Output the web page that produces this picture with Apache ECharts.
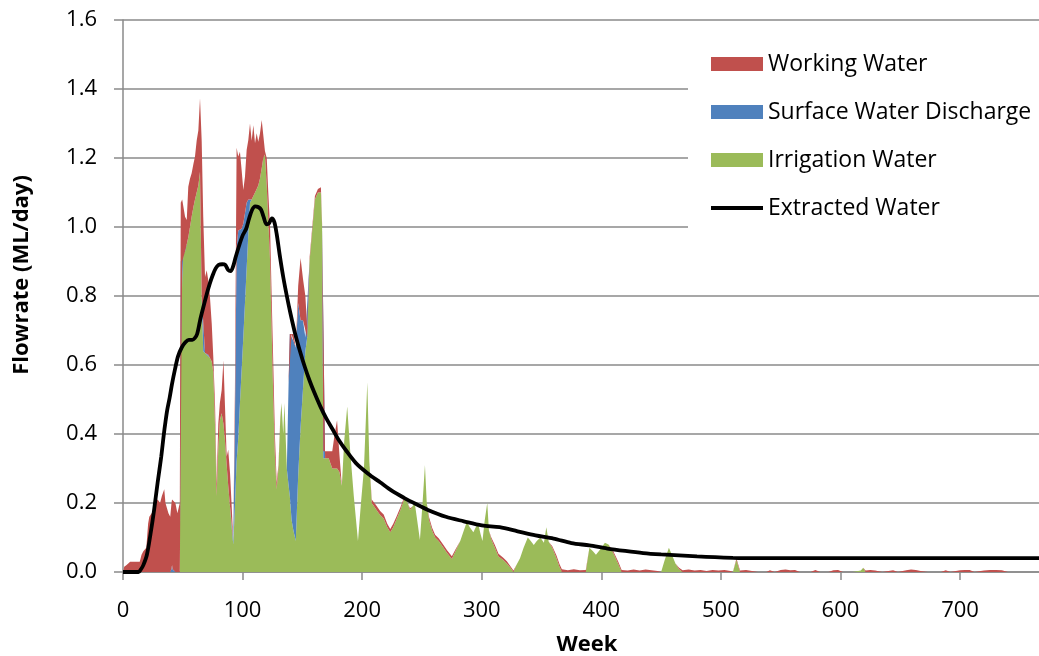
<!DOCTYPE html>
<html>
<head>
<meta charset="utf-8">
<title>Flowrate by week</title>
<script src="https://cdn.jsdelivr.net/npm/echarts@6/dist/echarts.min.js"></script>
<style>
  html, body { margin: 0; padding: 0; background: #ffffff; }
  #chart { width: 1039px; height: 656px; }
</style>
</head>
<body>
<div id="chart"></div>
<script>
// Weekly flow components (ML/day), stacked: irrigation at the bottom,
// surface water discharge in the middle, working water on top.
const weeks = [
  0, 1, 3, 6, 10, 14, 15.5, 17, 19.5, 21,
  22, 24, 26, 27, 29, 31, 32.5, 34.5, 35.5, 37,
  38, 39.5, 40.5, 41, 41.5, 43.8, 45.5, 46.8, 47.5, 48.3,
  49.5, 50.4, 51.9, 53.3, 54.6, 56, 57.4, 59, 60.2, 61.6,
  63, 64.4, 65.8, 67.1, 68.6, 70, 71.3, 72.7, 74.2, 75.5,
  77, 78.3, 79.7, 81, 82.5, 84, 85.3, 86.7, 88, 89.5,
  90.9, 92.2, 93.6, 95, 96.4, 97.8, 99.2, 100.6, 102, 103.4,
  104.8, 106.2, 107.6, 109, 110.4, 111.8, 113.1, 114.5, 116, 117.3,
  118.7, 120.2, 121.5, 123, 124.3, 125.7, 127, 128.5, 130, 131.5,
  132.5, 134, 135, 137, 138.5, 139.5, 141, 142.5, 144.5, 146.5,
  148.5, 150.5, 152.5, 154, 156, 158, 160.5, 163, 165.5, 166.5,
  167.5, 169, 172, 175, 177, 179, 181, 183, 185, 187.5,
  190, 193, 196.5, 199, 201.5, 204.3, 206, 208, 212, 215,
  218, 221, 223.5, 226, 229, 232, 235.5, 238, 240, 242,
  244, 246, 248.3, 250.5, 252.5, 254, 256, 258.5, 261, 264,
  268, 271, 275, 278, 282, 285, 287.5, 290, 293, 295,
  297, 299, 300.6, 302.5, 304.6, 306, 308, 311, 314, 318,
  321, 324, 326.5, 329, 332, 335, 338.5, 341, 343.5, 346,
  349, 352, 354, 356, 359, 362.5, 365, 367, 372, 377,
  382, 387, 390, 393, 395.5, 399, 403, 406, 410, 414,
  417, 422, 427, 432, 437, 442, 447, 450, 453, 456.5,
  459, 462, 465, 468, 473, 478, 483, 488, 493, 498,
  503, 508, 510, 513, 516, 521, 526, 531, 538, 541,
  545, 550, 554, 558, 562, 566, 575, 579, 583, 590,
  594, 598, 602, 610, 617, 619, 621, 625, 629, 635,
  644, 648, 655, 659, 663, 667, 673, 684, 688, 692,
  700, 704, 708, 712, 720, 725, 730, 735, 740
];

const irrigation = [
  0, 0, 0, 0, 0, 0, 0, 0, 0, 0,
  0, 0, 0, 0, 0, 0, 0, 0, 0, 0,
  0, 0, 0, 0, 0, 0, 0, 0, 0, 0.6,
  0.85, 0.92, 0.93, 0.95, 0.97, 1.0, 1.03, 1.06, 1.08, 1.1,
  1.12, 1.16, 0.8, 0.64, 0.635, 0.63, 0.63, 0.62, 0.61, 0.58,
  0.42, 0.22, 0.36, 0.44, 0.46, 0.43, 0.38, 0.31, 0.25, 0.19,
  0.13, 0.08, 0.19, 0.32, 0.39, 0.49, 0.585, 0.68, 0.78, 0.88,
  0.98, 1.07, 1.08, 1.09, 1.1, 1.11, 1.12, 1.14, 1.17, 1.2,
  1.21, 1.12, 1.02, 0.9, 0.7, 0.5, 0.34, 0.24, 0.3, 0.44,
  0.49, 0.4, 0.49, 0.3, 0.25, 0.22, 0.15, 0.12, 0.09, 0.28,
  0.42, 0.53, 0.64, 0.68, 0.9, 0.98, 1.08, 1.1, 1.1, 1.0,
  0.33, 0.33, 0.33, 0.3, 0.3, 0.3, 0.29, 0.25, 0.38, 0.48,
  0.35, 0.22, 0.09, 0.2, 0.3, 0.55, 0.32, 0.2, 0.18, 0.165,
  0.155, 0.13, 0.115, 0.13, 0.155, 0.18, 0.215, 0.2, 0.18, 0.19,
  0.2, 0.15, 0.093, 0.2, 0.31, 0.2, 0.15, 0.12, 0.1, 0.09,
  0.07, 0.055, 0.038, 0.06, 0.09, 0.12, 0.145, 0.13, 0.115, 0.13,
  0.14, 0.11, 0.09, 0.15, 0.2, 0.12, 0.095, 0.07, 0.045, 0.035,
  0.025, 0.012, 0, 0.02, 0.04, 0.07, 0.1, 0.09, 0.078, 0.09,
  0.1, 0.085, 0.13, 0.088, 0.07, 0.04, 0.015, 0, 0, 0,
  0, 0, 0.07, 0.06, 0.05, 0.065, 0.085, 0.08, 0.055, 0.025,
  0, 0, 0, 0, 0, 0, 0, 0, 0.035, 0.07,
  0.05, 0.025, 0.008, 0, 0, 0, 0, 0, 0, 0,
  0, 0, 0, 0.035, 0, 0, 0, 0, 0, 0,
  0, 0, 0, 0, 0, 0, 0, 0, 0, 0,
  0, 0, 0, 0, 0.004, 0.012, 0, 0, 0, 0,
  0, 0, 0, 0, 0, 0, 0, 0, 0, 0,
  0, 0, 0, 0, 0, 0, 0, 0, 0
];

const surfaceDischarge = [
  0, 0, 0, 0, 0, 0, 0, 0, 0, 0,
  0, 0, 0, 0, 0, 0, 0, 0, 0, 0,
  0, 0, 0.008, 0.02, 0.008, 0, 0, 0, 0, 0.3,
  0.05, 0.01, 0, 0, 0, 0, 0, 0, 0, 0,
  0, 0, 0, 0, 0, 0, 0, 0, 0, 0,
  0, 0, 0, 0, 0, 0, 0, 0, 0, 0,
  0.01, 0.013, 0.24, 0.62, 0.6, 0.5, 0.41, 0.33, 0.26, 0.19,
  0.1, 0.01, 0, 0, 0, 0, 0, 0, 0, 0,
  0, 0, 0, 0, 0, 0, 0, 0, 0, 0,
  0, 0, 0, 0, 0.3, 0.47, 0.54, 0.55, 0.56, 0.5,
  0.31, 0.2, 0.04, 0, 0, 0, 0, 0, 0, 0,
  0, 0, 0, 0, 0, 0, 0, 0, 0, 0,
  0, 0, 0, 0, 0, 0, 0, 0, 0, 0,
  0, 0, 0, 0, 0, 0, 0, 0, 0, 0,
  0, 0, 0, 0, 0, 0, 0, 0, 0, 0,
  0, 0, 0, 0, 0, 0, 0, 0, 0, 0,
  0, 0, 0, 0, 0, 0, 0, 0, 0, 0,
  0, 0, 0, 0, 0, 0, 0, 0, 0, 0,
  0, 0, 0, 0, 0, 0, 0, 0, 0, 0,
  0, 0, 0, 0, 0, 0, 0, 0, 0, 0,
  0, 0, 0, 0, 0, 0, 0, 0, 0, 0,
  0, 0, 0, 0, 0, 0, 0, 0, 0, 0,
  0, 0, 0, 0, 0, 0, 0, 0, 0, 0,
  0, 0, 0, 0, 0, 0, 0, 0, 0, 0,
  0, 0, 0, 0, 0, 0, 0, 0, 0, 0,
  0, 0, 0, 0, 0, 0, 0, 0, 0, 0,
  0, 0, 0, 0, 0, 0, 0, 0, 0
];

const workingWater = [
  0, 0.015, 0.02, 0.03, 0.03, 0.03, 0.05, 0.06, 0.07, 0.14,
  0.16, 0.17, 0.18, 0.2, 0.21, 0.2, 0.22, 0.24, 0.2, 0.2,
  0.17, 0.16, 0.19, 0.19, 0.2, 0.2, 0.17, 0.19, 0.2, 0.17,
  0.18, 0.15, 0.1, 0.07, 0.147, 0.14, 0.126, 0.125, 0.124, 0.15,
  0.16, 0.213, 0.45, 0.39, 0.22, 0.245, 0.216, 0.178, 0.11, 0.044,
  0.06, 0.037, 0.07, 0.05, 0.067, 0.184, 0.1, 0.024, 0.104, 0.097,
  0.05, 0, 0.1, 0.29, 0.214, 0.228, 0.17, 0.097, 0.106, 0.153,
  0.172, 0.22, 0.17, 0.205, 0.143, 0.162, 0.127, 0.13, 0.14, 0.115,
  0.01, 0.08, 0.08, 0.1, 0.1, 0.1, 0.06, 0.02, 0.01, 0.005,
  0, 0, 0, 0, 0, 0, 0, 0.02, 0, 0.05,
  0.18, 0.12, 0.12, 0.03, 0.01, 0.01, 0.01, 0.01, 0.015, 0.01,
  0.02, 0.015, 0.02, 0.05, 0.1, 0.14, 0.05, 0, 0, 0,
  0, 0, 0, 0, 0, 0, 0, 0.01, 0.012, 0.012,
  0.012, 0.01, 0.01, 0.01, 0.008, 0.008, 0.005, 0, 0.005, 0,
  0, 0, 0, 0, 0, 0, 0.008, 0.008, 0.008, 0.008,
  0.008, 0.008, 0.008, 0.005, 0, 0, 0, 0, 0, 0,
  0, 0, 0, 0, 0, 0, 0.005, 0.008, 0.008, 0.006,
  0.006, 0.005, 0.004, 0, 0, 0, 0, 0, 0, 0,
  0, 0, 0, 0, 0.005, 0.008, 0.008, 0.008, 0.005, 0.008,
  0.005, 0.006, 0, 0, 0, 0, 0, 0, 0.005, 0.006,
  0.006, 0.004, 0.007, 0.004, 0.007, 0.005, 0.003, 0, 0, 0,
  0, 0, 0.004, 0.005, 0.007, 0.004, 0.006, 0.003, 0.006, 0.004,
  0.006, 0.003, 0, 0.004, 0.004, 0.006, 0.003, 0, 0, 0.005,
  0, 0.006, 0.007, 0.005, 0.006, 0, 0, 0.006, 0, 0,
  0.005, 0.006, 0, 0, 0, 0, 0.004, 0.006, 0.004, 0,
  0.005, 0, 0.005, 0.007, 0.006, 0.003, 0, 0, 0.005, 0,
  0.005, 0.006, 0.006, 0, 0.004, 0.006, 0.006, 0.005, 0
];

// Total extracted flow (ML/day)
const extractedWeeks = [
  0, 5, 10, 13, 15, 17, 20, 23, 26, 29,
  32, 34, 35.5, 37, 39, 41, 43.5, 46, 49, 52,
  55, 58, 60, 62, 64.5, 67, 70, 72.5, 75, 77.5,
  80, 83, 85.5, 88, 90, 92, 94, 97, 100, 103,
  105.5, 108, 110.5, 113, 115.5, 117.5, 120, 122, 124.5, 126.5,
  128.5, 131, 134, 137, 140, 144, 148, 152, 156, 160,
  165, 170, 175, 180, 187, 195, 205, 215, 225, 235,
  245, 255, 270, 285, 300, 315, 330, 345, 360, 375,
  390, 405, 420, 435, 450, 465, 480, 495, 510, 525,
  540, 600, 700, 766
];
const extracted = [
  0, 0, 0, 0, 0.008, 0.02, 0.05, 0.11, 0.18, 0.26,
  0.335, 0.395, 0.435, 0.47, 0.505, 0.545, 0.588, 0.625, 0.65, 0.665,
  0.673, 0.673, 0.678, 0.69, 0.73, 0.765, 0.805, 0.835, 0.86, 0.88,
  0.89, 0.892, 0.89, 0.875, 0.872, 0.885, 0.91, 0.945, 0.975, 0.995,
  1.025, 1.05, 1.06, 1.058, 1.05, 1.03, 1.008, 1.01, 1.025, 1.015,
  0.98, 0.92, 0.855, 0.8, 0.75, 0.69, 0.64, 0.595, 0.555, 0.52,
  0.48, 0.445, 0.415, 0.385, 0.35, 0.315, 0.285, 0.26, 0.235, 0.215,
  0.197, 0.18, 0.16, 0.147, 0.135, 0.13, 0.118, 0.106, 0.097, 0.084,
  0.077, 0.068, 0.061, 0.055, 0.051, 0.048, 0.045, 0.043, 0.041, 0.04,
  0.04, 0.04, 0.04, 0.04
];

const weekTicks = [0, 100, 200, 300, 400, 500, 600, 700];
const flowTicks = [0, 0.2, 0.4, 0.6, 0.8, 1.0, 1.2, 1.4, 1.6];

const FONT = '"Open Sans", "Noto Sans", sans-serif';
const AXIS_GREY = '#8a8a8a';
const RED = '#C0504D';
const BLUE = '#4F81BD';
const GREEN = '#9BBB59';

// Flow value in column 0, week in column 1, so the stack accumulates flow.
const flowRows = values => weeks.map((w, i) => [values[i], w]);

function areaSeries(name, values, color) {
  return {
    name: name,
    type: 'line',
    stack: 'flow',
    data: flowRows(values),
    encode: { x: 1, y: 0 },
    symbol: 'none',
    color: color,
    lineStyle: { width: 0 },
    areaStyle: { color: color, opacity: 1 },
    emphasis: { disabled: true },
    z: 2
  };
}

const chart = echarts.init(document.getElementById('chart'), null, { renderer: 'canvas' });

chart.setOption({
  animation: false,
  backgroundColor: '#ffffff',
  grid: { left: 123, right: 0, top: 20, bottom: 84, containLabel: false },
  xAxis: {
    type: 'value',
    min: weekTicks[0],
    max: 766,
    interval: weekTicks[1] - weekTicks[0],
    axisLine: { show: true, onZero: false, lineStyle: { color: AXIS_GREY, width: 1.5 } },
    axisTick: { show: true, length: 8, lineStyle: { color: AXIS_GREY, width: 1.5 } },
    axisLabel: {
      color: '#000', fontFamily: FONT, fontSize: 22, margin: 28,
      showMaxLabel: false,
      formatter: v => (weekTicks.includes(v) ? String(v) : '')
    },
    splitLine: { show: false }
  },
  yAxis: {
    type: 'value',
    min: flowTicks[0],
    max: flowTicks[flowTicks.length - 1],
    interval: 0.2,
    axisLine: { show: true, lineStyle: { color: AXIS_GREY, width: 1.5 } },
    axisTick: { show: true, length: 9, lineStyle: { color: AXIS_GREY, width: 1.5 } },
    axisLabel: {
      color: '#000', fontFamily: FONT, fontSize: 22, margin: 26,
      formatter: v => v.toFixed(1)
    },
    splitLine: { show: true, lineStyle: { color: AXIS_GREY, width: 1.5 } }
  },
  legend: {
    orient: 'vertical',
    left: 688,
    top: 32,
    padding: [20, 10, 25, 23],
    backgroundColor: '#ffffff',
    itemWidth: 52,
    itemHeight: 14,
    itemGap: 24,
    selectedMode: false,
    textStyle: { fontFamily: FONT, fontSize: 23, color: '#000', lineHeight: 24 },
    data: [
      { name: 'Working Water', icon: 'rect' },
      { name: 'Surface Water Discharge', icon: 'rect' },
      { name: 'Irrigation Water', icon: 'rect' },
      // plain stroke-like bar, centred in the 52x14 icon box
      { name: 'Extracted Water', icon: 'path://M0,0M52,14M0,5.1L52,5.1L52,8.9L0,8.9Z', itemStyle: { color: '#000' } }
    ]
  },
  graphic: [
    {
      type: 'text',
      x: 22, y: 275,
      rotation: Math.PI / 2,
      style: {
        text: 'Flowrate (ML/day)',
        x: 0, y: 0,
        fill: '#000',
        font: 'bold 22px "Open Sans", sans-serif',
        textAlign: 'center', align: 'center',
        textVerticalAlign: 'middle', verticalAlign: 'middle'
      }
    },
    {
      type: 'text',
      x: 587, y: 645,
      style: {
        text: 'Week',
        x: 0, y: 0,
        fill: '#000',
        font: 'bold 22px "Open Sans", sans-serif',
        textAlign: 'center', align: 'center',
        textVerticalAlign: 'middle', verticalAlign: 'middle'
      }
    }
  ],
  series: [
    areaSeries('Irrigation Water', irrigation, GREEN),
    areaSeries('Surface Water Discharge', surfaceDischarge, BLUE),
    areaSeries('Working Water', workingWater, RED),
    {
      name: 'Extracted Water',
      type: 'line',
      data: extractedWeeks.map((w, i) => [w, extracted[i]]),
      symbol: 'none',
      smooth: 0.3,
      color: '#000',
      lineStyle: { color: '#000', width: 3.8 },
      emphasis: { disabled: true },
      z: 5
    }
  ]
});
</script>
</body>
</html>
